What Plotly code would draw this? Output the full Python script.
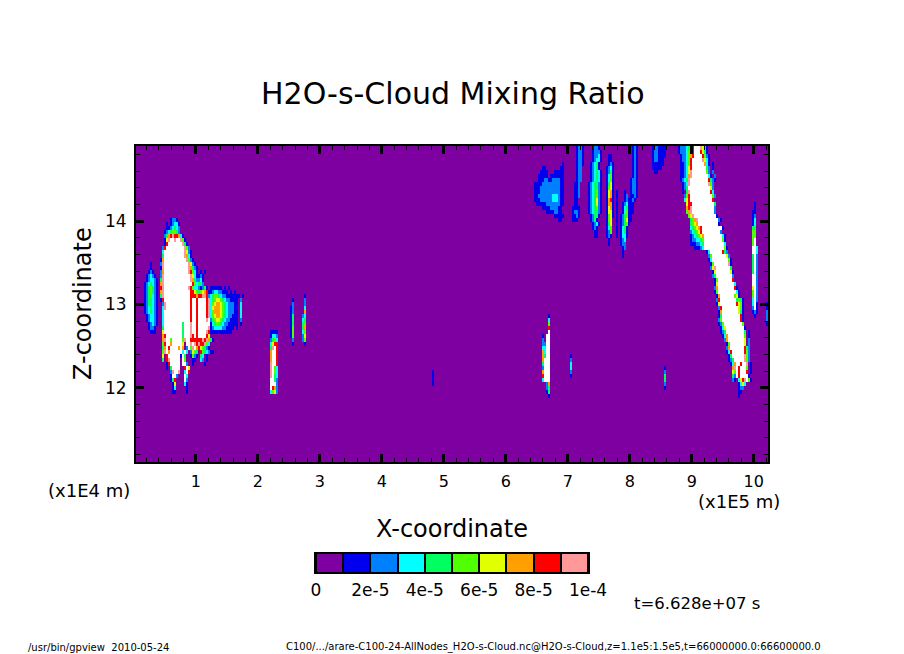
import numpy as np
import plotly.graph_objects as go

TITLE = "H2O-s-Cloud Mixing Ratio"
X_RANGE = [0.035, 10.23]   # x1E5 m
Z_RANGE = [11.11, 14.9]    # x1E4 m
X_TICKS = [1, 2, 3, 4, 5, 6, 7, 8, 9, 10]
Z_TICKS = [12, 13, 14]
LEVEL_TICKS = [0, 2e-5, 4e-5, 6e-5, 8e-5, 1e-4]
LEVEL_LABELS = ["0", "2e-5", "4e-5", "6e-5", "8e-5", "1e-4"]
BAND_COLORS = ["#7f00a0", "#0000ee", "#0080ff", "#00ffff", "#00ff60", "#50ff00",
               "#e0ff00", "#ff9f00", "#ff0000", "#ff9999"]
ABOVE_COLOR = "#ffffff"

# Cloud field: band index per cell, '.'=lowest band, 1-9, W=above 1e-4.
# Each patch: x of first column (x1E5 m), z of first row (x1E4 m), rows going downward.
CLOUD_WEST = (0.161, 14.06, [
    ".............1221",
    "...........1.12331",
    "...........1123432",
    "..........12345542",
    "..........2478988731",
    "..........169WW9WW951",
    "..........18WWWWWWW941",
    ".........28WWWWWWWWW952",
    ".........3WWWWWWWWWW9621",
    ".........4WWWWWWWWWW9731",
    "........17WWWWWWWWWWW9521",
    "...1....29WWWWWWWWWWWW9621",
    "...1....19WWWWWWWWWWWW97421",
    "..121...27WWWWWWWWWWWW98531.1.1",
    ".12321..29WWWWWWWWWWWWW9631121",
    ".123321.49WWWWWWWWWWWWW9742231",
    "1234321.79WWWWWWWWWWWWWW853442",
    "1245421.89WWWWWWWWWWWW9853321241.111111.1.1",
    "1245421.79WWWWWWWWWWWWW8865456781123322111.1.1",
    "1245321.49WWWWWWWWWWWWW8887889982345543221111111.1",
    "1244321.18WWWWWWWWWWWWW8WW8WWWW8934566543221111.2",
    "1244321..29WWWWWWWWWWWW8WW8WWWW8935677654322211.3",
    "1234321..39WWWWWWWWWWWW8WW8WWWW8936777654322211.3",
    "1234321..3WWWWWWWWWWWWW8WW8WWWW8935777654322211.3",
    ".123321..3WWWWWWWWWWWWW8WW8WWWW8935677654322111.3",
    ".123321..3WWWWWWWWWWWWW8WW8WWWW9W24566543221111.2",
    "..12321..3WWWWWWWWW4WWW9WW8WWWWWW13455432211111.1",
    "..1221...4WWWWWWWWW4WWW9WW8WWWWW9123333221111.1",
    "...111...6WWWWWWWWW4WWW9WW8WWWW9811111111111",
    ".........78WWWWWWWW4WWW98W8WWWW86",
    ".........79WW5WWWWW59WW888888989741",
    ".........58WW7WWWWW6.WW9W98988953",
    ".........47W8WWWW7W7.2W59W7865421",
    ".........59W7WWWWWW3W3.2654.8543211",
    ".........6.8WWWWWW1W4..1521.43.1",
    ".........4.89WWWWW.W5...11..32.1",
    "...........18WWWWW.WW2..1.....1",
    "...........1.4WWWW..8W6",
    ".............29WW9..3W8",
    ".............1WW2...W3",
    ".............148....W2",
    "..............16....31",
    "..............13.....1",
    "..............11.....1",
])

CLOUD_SOUTH = (2.21, 12.68, [
    "1111", "1332", "2453", "3688", "49W8", "7WW8", "7WW8", "7WW8",
    "9WW8", "9W53", "9W53", "9W43", "WW42", "WWW2", "W872", "3562",
])

SPIKE_A = (2.52, 13.1, [".1", ".2", "12", "12", "14", "14", "14", "15", "15", "15", ".2", ".1"])
SPIKE_B = (2.72, 13.14, [".1", ".2", ".2", ".3", ".7", "23", "34", "45", "47", "35", "26", "25", ".1"])

CLOUD_MID = (6.58, 12.886, [
    "...1", "...3", "...5", "...8", "...W", "1.WW", "2.WW", "22WW", "33WW", "73WW",
    "74WW", "7WWW", "4WWW", "2WWW", "7WWW", "8WWW", "3WWW", "..27", "..24", "..14", "...1",
])
SPIKE_C = (7.0, 12.41, [".1", ".2", ".3", ".3", ".2", ".1"])
SPIKE_D = (4.79, 12.22, [".1", ".1", ".1", ".1"])
SPIKE_E = (8.55, 12.24, ["1", "2", "4", "4", "2", "1"])
SPIKE_F = (9.88, 12.49, ["4", "5", "5", "5", "6", "5", "5", "4"])
SPIKE_G = (10.19, 13.05, ["1", "1", "2", "2", "2", "1"])

PATCH_CLUSTER = (6.45, 14.73, [
    "..............1",
    "....11.......11",
    "...1111...11111",
    "..11111.1111111",
    "..1112211222211",
    "111122222222211",
    "111222222222211",
    "111222222222211",
    "112222222333211",
    "111222222333211",
    ".11111222222211",
    "....1111222211",
    "......11112211",
    "..........11111",
    "............11",
])

STREAK_1 = (7.08, 14.9, [
    "..1221", "..1221", "..1221", "..1221", "..1221", "..122", "..122", "..122", "..122",
    ".112", ".112", ".112", ".112", ".11", ".11", "1111", "1221", "1121", "111",
])
STREAK_2 = (7.32, 14.9, [
    "..1221", "..12221", "..12231", "..12331", ".12341", ".12341", ".123431", ".123431",
    ".123431", "1234421", "1234421", "1234521", "1234521", "1234621", "1234621", "1234521",
    "1234421", ".12441", ".1241", "..1231", "..121", "...11", "...11",
])
STREAK_3 = (7.58, 14.9, [
    "", "", "..11", "..11", "..121", ".1231", ".1241", ".1351", ".1351", ".1461", ".1561",
    ".1671", ".1671", ".1781", ".1771", ".1671", ".1661", ".1561", ".156", ".146", ".135",
    ".125", ".121", "..1", "..1",
])
STREAK_4 = (7.76, 14.9, [
    "", "", "", "", "", "", "", "", "", "", "", ".1...1", ".1...12", ".1...12", ".1..123",
    ".1..1341", ".1..1351", ".1.12451", ".1.12461", ".1.12451", ".1.1341", ".1.1341",
    ".1.1331", "...123", "...122", "....12", "....1", "....1",
])
STREAK_5 = (7.98, 14.9, [
    "..121", "..121", "..121", "..121", "..121", "..121", "..121", "..121", ".1221", ".1221",
    ".1221", ".1221", ".1121", "1121", "111", "111", ".11", ".1", ".1",
])
STREAK_6 = (8.35, 14.9, ["1221111", "1221111", "1221111", "122111", "111111", "11111", ".11"])

BAND_DIAGONAL = (8.677, 14.9, [
    "...1222346" + "8WWW" + "9641",
    "...1222356" + "8WWW" + "8641",
    "....122357" + "8WWWW" + "8521",
    "....122358" + "WWWWW" + "9631",
    "....112358" + "WWWWWW" + "731.1",
    "....11236" + "8WWWWWWW" + "42.1",
    "....1123" + "69WWWWWWW" + "52.2",
    "....1123" + "79WWWWWWWW" + "31.2",
    "....1234" + "9WWWWWWWWW" + "8421",
    ".....123" + "9WWWWWWWWW" + "952",
    ".....124" + "WWWWWWWWWWW" + "62",
    ".....1.4" + "9WWWWWWWWWW" + "83",
    "......25" + "8WWWWWWWWWWW" + "52",
    "......36" + "8WWWWWWWWWWW" + "8",
    ".......68" + "8WWWWWWWWWWW" + "4",
    ".......78" + "9WWWWWWWWWWW" + "2",
    ".......57" + "9WWWWWWWWWWW" + "2",
    "........56" + "9WWWWWWWWWWW" + "1",
    ".........457" + "9WWWWWWWWWW" + "21",
    ".........4567" + "WWWWWWWWWW" + "1",
    ".........34567" + "8WWWWWWWWWW" + "1",
    ".........234568" + "WWWWWWWWW" + "2",
    ".........1234567" + "WWWWWWWWW" + "31",
    ".........1223345" + "WWWWWWWWW" + "51",
    ".........1112234" + "WWWWWWWWWW" + "3",
    "...........11123" + "WWWWWWWWWW" + "51",
    ".................1" + "3WWWWWW" + "842",
    "..................2" + "5WWWWWWW" + "62",
    "..................1" + "3WWWWWWWW" + "51",
    "...................1" + "5WWWWWWW" + "91",
    "...................2" + "69WWWWWWW" + "4",
    "....................1" + "6WWWWWWW" + "61",
    "....................2" + "4WWWWWWWW" + "2",
    ".....................1" + "5WWWWWWW" + "8",
    ".....................1" + "6WWWWWWWW" + "3",
    ".....................2" + "7WWWWWWWW" + "81",
    ".....................1" + "5WWWWWWWWW" + "31",
    "......................1" + "7WWWWWWW" + "561",
    "......................2" + "8WWWWWWWW" + "4541",
    "......................1" + "6WWWWWWWW" + "8651",
    ".......................2" + "8WWWWWWWW" + "651",
    ".......................1" + "7WWWWWWWW" + "641",
    ".......................1" + "4WWWWWWWWW" + "81",
    ".......................2" + "5WWWWWWWWW" + "81",
    ".......................12" + "5WWWWWWWWW" + "5",
    "........................13" + "6WWWWWWWWW" + "1",
    "........................124" + "WWWWWWWWW" + "4.1",
    ".........................13" + "7WWWWWWWW" + "5.1",
    "..........................2" + "7WWWWWWWW" + "6.2",
    "...........................1" + "5WWWWWWW" + "6.2",
    "...........................2" + "7WWWWWWW" + "8.2",
    "...........................13" + "8WWWWWW" + "8.2",
    "............................14" + "WWWWWW" + "9.2",
    "............................124" + "WWWWW" + "9.2",
    ".............................137" + "WW8WW" + "9.1",
    "..............................7" + "9W8WWW" + "2.1",
    "..............................6" + "5W8WWW" + "8.1",
    "..............................4" + "2W8WWWW" + "1",
    "..............................2" + "1.3689W" + "51",
    "................................." + "1363",
    "................................." + "122",
    "................................." + "11",
    "................................." + "1",
])

CLOUD_NE = (9.98, 14.24, [
    ".1", ".1", "11", "12", "13", "13", "44", "55", "55", "5W", "5W", "WW3", "WW3", "4W2",
    "4W2", "4W2", "4W2", "4W2", "WW2", "WW2", "WW2", "6W2", "5W2", "5W2", "3W2", "3W1",
    "2W1", "121", ".1",
])

COLS, ROWS = 316, 79
CELL_X = (X_RANGE[1] - X_RANGE[0]) / COLS
CELL_Z = (Z_RANGE[1] - Z_RANGE[0]) / ROWS
PATCHES = [CLOUD_WEST, CLOUD_SOUTH, SPIKE_A, SPIKE_B, CLOUD_MID, SPIKE_C, SPIKE_D, SPIKE_E,
           SPIKE_F, SPIKE_G, PATCH_CLUSTER, STREAK_1, STREAK_2, STREAK_3, STREAK_4, STREAK_5,
           STREAK_6, BAND_DIAGONAL, CLOUD_NE]

field = np.zeros((ROWS, COLS))
for x_left, z_top, rows in PATCHES:
    c0 = int(round((x_left - X_RANGE[0]) / CELL_X))
    r0 = int(round((Z_RANGE[1] - z_top) / CELL_Z))
    for i, line in enumerate(rows):
        for j, ch in enumerate(line):
            if ch != ".":
                lev = 10 if ch == "W" else int(ch)
                r, c = r0 + i, c0 + j
                if 0 <= r < ROWS and 0 <= c < COLS:
                    field[r, c] = max(field[r, c], lev)

mixing = (field + 0.5) * 1e-5
x_cells = [X_RANGE[0] + (i + 0.5) * CELL_X for i in range(COLS)]
z_cells = [Z_RANGE[1] - (i + 0.5) * CELL_Z for i in range(ROWS)]

all_colors = BAND_COLORS + [ABOVE_COLOR]
n = len(all_colors)
scale = []
for i, col in enumerate(all_colors):
    scale += [[i / n, col], [(i + 1) / n, col]]

fig = go.Figure()
fig.add_trace(go.Heatmap(x=x_cells, y=z_cells, z=mixing, zmin=0, zmax=1.1e-4, colorscale=scale,
                         showscale=False, xaxis="x", yaxis="y"))
bar_centers = [(i + 0.5) * 1e-5 for i in range(10)]
fig.add_trace(go.Heatmap(x=bar_centers, y=[0], z=[bar_centers], zmin=0, zmax=1.1e-4,
                         colorscale=scale, showscale=False, xgap=2, xaxis="x2", yaxis="y2"))

W, H = 904, 654
FONT = "DejaVu Sans"
fig.update_layout(
    width=W, height=H, margin=dict(l=0, r=0, t=0, b=0), autosize=False,
    paper_bgcolor="white", plot_bgcolor="black", showlegend=False,
    font=dict(family=FONT, color="black"),
    xaxis=dict(domain=[136 / W, 768 / W], range=X_RANGE, tickvals=X_TICKS, ticks="inside",
               automargin=False,
               ticklen=8, tickwidth=3, tickcolor="black", mirror="allticks", showline=True,
               linecolor="black", linewidth=2, showgrid=False, zeroline=False,
               tickfont=dict(size=16), ticklabelstandoff=4,
               minor=dict(dtick=0.2, tick0=0, ticks="inside", ticklen=4, tickwidth=1,
                          tickcolor="black", showgrid=False)),
    yaxis=dict(domain=[1 - 462 / H, 1 - 146 / H], range=Z_RANGE, tickvals=Z_TICKS, ticks="inside",
               automargin=False,
               ticklen=8, tickwidth=3, tickcolor="black", mirror="allticks", showline=True,
               linecolor="black", linewidth=2, showgrid=False, zeroline=False,
               tickfont=dict(size=17), ticklabelstandoff=4,
               minor=dict(dtick=0.2, tick0=0, ticks="inside", ticklen=4, tickwidth=1,
                          tickcolor="black", showgrid=False)),
    xaxis2=dict(domain=[316 / W, 588 / W], range=[0, 1e-4], anchor="y2", tickvals=LEVEL_TICKS,
                automargin=False,
                ticktext=LEVEL_LABELS, ticks="", showline=True, linecolor="black", linewidth=2,
                mirror=True, showgrid=False, zeroline=False, tickfont=dict(size=17),
                ticklabelstandoff=2),
    yaxis2=dict(domain=[1 - 572 / H, 1 - 554 / H], range=[-0.5, 0.5], anchor="x2",
                automargin=False,
                showticklabels=False, ticks="", showline=True, linecolor="black", linewidth=2,
                mirror=True, showgrid=False, zeroline=False),
)


def label(text, px, py, size, rot=0, anchor="center"):
    fig.add_annotation(text=text, xref="paper", yref="paper", x=px / W, y=1 - py / H,
                       showarrow=False, font=dict(size=size, family=FONT, color="black"),
                       textangle=rot, xanchor=anchor, yanchor="middle")


label(TITLE, 453, 93, 30)
label("X-coordinate", 452, 529, 24)
label("Z-coordinate", 83, 304, 24, rot=-90)
label("(x1E4 m)", 89, 490, 18)
label("(x1E5 m)", 739, 501, 18)
label("t=6.628e+07 s", 697, 603, 16.5)
label("/usr/bin/gpview  2010-05-24", 26, 647, 10, anchor="left")
label("C100/.../arare-C100-24-AllNodes_H2O-s-Cloud.nc@H2O-s-Cloud,z=1.1e5:1.5e5,t=66000000.0:66600000.0",
      553, 647, 10)

PAGE_FIT = ("document.documentElement.style.overflow='hidden';"
            "document.body.style.margin='0';document.body.style.overflow='hidden';"
            "var gd=document.getElementById('{plot_id}');"
            "gd.style.width='904px';gd.style.height='654px';"
            "gd.parentNode.style.width='904px';gd.parentNode.style.height='654px';"
            "Plotly.relayout(gd,{width:904,height:654});")
fig.write_html("out.html", post_script=PAGE_FIT, config=dict(displayModeBar=False))
